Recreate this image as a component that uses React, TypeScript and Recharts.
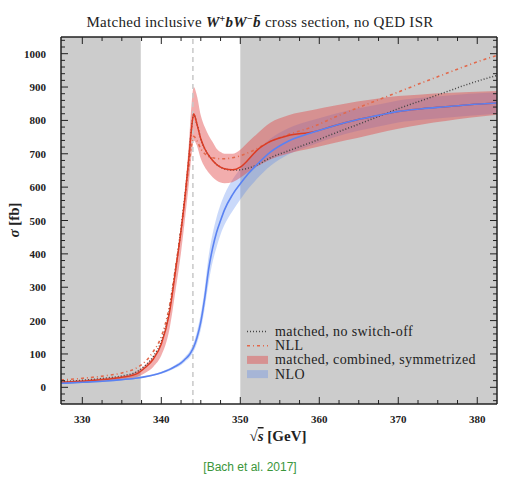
import React from "react";
import {
  ComposedChart,
  Line,
  Area,
  XAxis,
  YAxis,
  ReferenceArea,
  ReferenceLine,
} from "recharts";

// sqrt(s) grid [GeV]
const energy = [
  327.3, 330, 333, 335, 337, 338, 339, 340, 341, 341.8, 342.5, 343, 343.5, 343.8,
  344.1, 344.5, 345, 345.5, 346, 346.5, 347, 347.5, 348, 349, 350, 351, 352,
  353.8, 356, 359.3, 362, 364.8, 367.5, 370, 373, 376, 379, 382.5,
];

// cross sections [fb]
const nlo = [
  12, 15, 19, 23, 28, 32, 37, 44, 53, 63, 73, 84, 96, 107,
  121, 148, 196, 268, 355, 418, 465, 500, 532, 577, 610, 640, 665,
  705, 737, 765, 785, 802, 815, 827, 835, 841, 847, 852,
];
const nloLo = [
  10, 13, 17, 21, 26, 30, 35, 41, 49, 58, 67, 77, 87, 96,
  108, 131, 173, 238, 315, 376, 420, 458, 487, 528, 563, 595, 622,
  663, 697, 728, 750, 768, 782, 794, 802, 808, 814, 820,
];
const nloHi = [
  14, 17, 21, 25, 30, 34, 40, 47, 57, 68, 79, 91, 105, 118,
  134, 166, 221, 298, 395, 460, 510, 548, 578, 622, 655, 683, 706,
  745, 776, 802, 820, 836, 848, 860, 868, 874, 880, 884,
];
const matched = [
  15, 18, 24, 30, 42, 60, 85, 130, 220, 350, 470, 570, 690, 770,
  820, 790, 745, 715, 695, 680, 668, 660, 655, 652, 660, 682, 708,
  737, 754, 766, 785, 802, 815, 827, 835, 841, 847, 852,
];
const matchedLo = [
  11, 14, 19, 24, 32, 44, 62, 95, 170, 290, 405, 505, 615, 690,
  740, 725, 685, 660, 643, 630, 620, 614, 612, 615, 628, 645, 660,
  683, 700, 718, 733, 747, 762, 775, 788, 798, 808, 817,
];
const matchedHi = [
  18, 22, 28, 34, 50, 68, 92, 135, 228, 352, 478, 590, 735, 840,
  900, 875, 815, 780, 755, 735, 715, 705, 700, 700, 712, 735, 757,
  793, 815, 832, 845, 857, 866, 873, 878, 882, 885, 888,
];
const noSwitchOff = [
  17, 21, 28, 34, 48, 66, 93, 138, 228, 355, 475, 575, 690, 770,
  818, 790, 745, 715, 695, 680, 668, 660, 655, 651, 652, 657, 665,
  688, 708, 737, 762, 787, 812, 835, 860, 885, 910, 935,
];
const nll = [
  22, 27, 35, 43, 60, 78, 108, 152, 240, 358, 475, 570, 665, 720,
  752, 740, 715, 700, 692, 688, 686, 685, 685, 688, 694, 703, 714,
  737, 757, 782, 810, 837, 862, 885, 913, 940, 967, 995,
];

const xMajor = [330, 340, 350, 360, 370, 380];
const yMajor = [0, 100, 200, 300, 400, 500, 600, 700, 800, 900, 1000];
const xTicks = Array.from({ length: 21 }, (_, i) => 330 + i * 2.5);
const yTicks = Array.from({ length: 55 }, (_, i) => -40 + i * 20);

const data = energy.map((e, i) => ({
  e,
  nlo: nlo[i],
  nloBand: [nloLo[i], nloHi[i]],
  matched: matched[i],
  band: [matchedLo[i], matchedHi[i]],
  dotted: noSwitchOff[i],
  nll: nll[i],
}));

const SERIF = "'Liberation Serif', 'DejaVu Serif', serif";
const INK = "#222";
const RED = "#dc3c24";
const BLUE = "#5a82f2";

const BottomTick = ({ x, y, payload }: any) => {
  const major = xMajor.includes(payload.value);
  return (
    <g>
      <line x1={x} x2={x} y1={y} y2={y - (major ? 7 : 4)} stroke={INK} />
      {major && (
        <text x={x} y={y + 19} textAnchor="middle" fontFamily={SERIF}
          fontWeight="bold" fontSize={11} fill={INK}>
          {payload.value}
        </text>
      )}
    </g>
  );
};

const TopTick = ({ x, y, payload }: any) => {
  const major = xMajor.includes(payload.value);
  return <line x1={x} x2={x} y1={y} y2={y + (major ? 7 : 4)} stroke={INK} />;
};

const LeftTick = ({ x, y, payload }: any) => {
  const major = yMajor.includes(payload.value);
  return (
    <g>
      <line x1={x} x2={x + (major ? 7 : 4)} y1={y} y2={y} stroke={INK} />
      {major && (
        <text x={x - 15} y={y + 4} textAnchor="end" fontFamily={SERIF}
          fontWeight="bold" fontSize={11} fill={INK}>
          {payload.value}
        </text>
      )}
    </g>
  );
};

const RightTick = ({ x, y, payload }: any) => {
  const major = yMajor.includes(payload.value);
  return <line x1={x} x2={x - (major ? 7 : 4)} y1={y} y2={y} stroke={INK} />;
};

const legendRows = [
  { label: "matched, no switch-off", kind: "dotted" },
  { label: "NLL", kind: "nll" },
  { label: "matched, combined, symmetrized", kind: "redBand" },
  { label: "NLO", kind: "blueBand" },
];

export default function App() {
  const axisLine = { stroke: INK, strokeWidth: 1.5 };
  return (
    <div style={{ position: "absolute", left: 0, top: 0, width: 526, height: 488, background: "#fff" }}>
      <ComposedChart
        width={526}
        height={488}
        data={data}
        margin={{ top: 27, right: 19, bottom: 54, left: 21 }}
      >
        <ReferenceArea xAxisId="b" yAxisId="l" x1={327.3} x2={382.5} y1={-50} y2={1050}
          fill="#cccccc" fillOpacity={1} stroke="none" />
        <ReferenceArea xAxisId="b" yAxisId="l" x1={337.4} x2={350} y1={-50} y2={1050}
          fill="#ffffff" fillOpacity={1} stroke="none" />
        <ReferenceLine xAxisId="b" yAxisId="l" x={344} stroke="#c8c8c8"
          strokeWidth={1.5} strokeDasharray="5 4" />

        <XAxis xAxisId="b" dataKey="e" type="number" domain={[327.3, 382.5]}
          allowDataOverflow ticks={xTicks} interval={0} height={30}
          tickSize={0} tickMargin={0} axisLine={axisLine} tick={<BottomTick />} />
        <XAxis xAxisId="t" orientation="top" dataKey="e" type="number"
          domain={[327.3, 382.5]} allowDataOverflow ticks={xTicks} interval={0}
          height={10} tickSize={0} tickMargin={0} axisLine={axisLine} tick={<TopTick />} />
        <YAxis yAxisId="l" type="number" domain={[-50, 1050]} allowDataOverflow
          ticks={yTicks} interval={0} width={40} tickSize={0} tickMargin={0}
          axisLine={axisLine} tick={<LeftTick />} />
        <YAxis yAxisId="r" orientation="right" type="number" domain={[-50, 1050]}
          allowDataOverflow ticks={yTicks} interval={0} width={10} tickSize={0}
          tickMargin={0} axisLine={axisLine} tick={<RightTick />} />

        <Area xAxisId="b" yAxisId="l" type="monotone" dataKey="nloBand" stroke="none"
          fill="#5080f0" fillOpacity={0.3} isAnimationActive={false} />
        <Area xAxisId="b" yAxisId="l" type="monotone" dataKey="band" stroke="none"
          fill="#e34a4a" fillOpacity={0.45} isAnimationActive={false} />
        <Line xAxisId="b" yAxisId="l" type="monotone" dataKey="nll" stroke="#e2694c"
          strokeWidth={1.6} strokeDasharray="3 3 1 3" dot={false} isAnimationActive={false} />
        <Line xAxisId="b" yAxisId="l" type="monotone" dataKey="dotted" stroke="#444"
          strokeWidth={1.5} strokeDasharray="1 2" dot={false} isAnimationActive={false} />
        <Line xAxisId="b" yAxisId="l" type="monotone" dataKey="matched" stroke={RED}
          strokeWidth={1.5} dot={false} isAnimationActive={false} />
        <Line xAxisId="b" yAxisId="l" type="monotone" dataKey="nlo" stroke={BLUE}
          strokeWidth={1.6} dot={false} isAnimationActive={false} />
      </ComposedChart>

      <svg width={526} height={488} style={{ position: "absolute", left: 0, top: 0, pointerEvents: "none" }}>
        <text x={260} y={27} textAnchor="middle" fontFamily={SERIF} fontSize={15}
          letterSpacing={0.3} fill={INK}>
          Matched inclusive{" "}
          <tspan fontWeight="bold" fontStyle="italic">W</tspan>
          <tspan fontWeight="bold" fontSize={10} dy={-5}>+</tspan>
          <tspan fontWeight="bold" fontStyle="italic" dy={5}>bW</tspan>
          <tspan fontWeight="bold" fontSize={10} dy={-5}>−</tspan>
          <tspan fontWeight="bold" fontStyle="italic" dy={5}>b̄</tspan>
          {" "}cross section, no QED ISR
        </text>

        <text x={278} y={441} textAnchor="middle" fontFamily={SERIF} fontSize={15}
          fontWeight="bold" fill={INK}>
          √<tspan fontStyle="italic" textDecoration="overline">s</tspan> [GeV]
        </text>

        <text transform="rotate(-90 14 220)" x={14} y={225} textAnchor="middle"
          fontFamily={SERIF} fontSize={15} fontWeight="bold" fill={INK}>
          <tspan fontStyle="italic">σ</tspan> [fb]
        </text>

        <text x={250} y={471} textAnchor="middle" fontFamily="'Liberation Sans', Arial, sans-serif"
          fontSize={12} fill="#3a963a">
          [Bach et al. 2017]
        </text>

        {legendRows.map((row, i) => {
          const cy = 331.5 + i * 14.2;
          let symbol;
          if (row.kind === "dotted") {
            symbol = <line x1={247} x2={268} y1={cy} y2={cy} stroke="#444" strokeWidth={1.5} strokeDasharray="1 2" />;
          } else if (row.kind === "nll") {
            symbol = <line x1={247} x2={268} y1={cy} y2={cy} stroke="#e2694c" strokeWidth={1.6} strokeDasharray="3 3 1 3" />;
          } else if (row.kind === "redBand") {
            symbol = <rect x={247} y={cy - 4} width={21} height={8} fill="#e34a4a" fillOpacity={0.45} />;
          } else {
            symbol = <rect x={247} y={cy - 4} width={21} height={8} fill="#5080f0" fillOpacity={0.3} />;
          }
          return (
            <g key={row.label}>
              {symbol}
              <text x={275} y={cy + 4.5} fontFamily={SERIF} fontSize={14}
                letterSpacing={0.4} fill={INK}>
                {row.label}
              </text>
            </g>
          );
        })}
      </svg>
    </div>
  );
}
